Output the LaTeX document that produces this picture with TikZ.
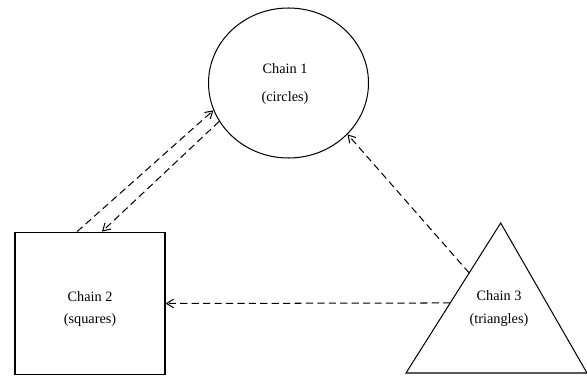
\documentclass[tikz,border=0pt]{standalone}
\usepackage{fontspec}
\setmainfont{Liberation Serif}
\usetikzlibrary{calc,arrows.meta,shapes.geometric}

\begin{document}
\begin{tikzpicture}[x=0.7pt, y=0.7pt,
		chainbox/.style={draw, line width=0.25mm, inner sep=0pt},
		chaintext/.style={align=center, inner sep=0pt, font=\fontsize{10pt}{12pt}\selectfont},
		flow/.style={line width=0.25mm, dash pattern=on 5pt off 3pt, -{Straight Barb[length=5pt, width=6pt]}}]
			%%%%% START %%%%%
			
			\useasboundingbox (0, 0) rectangle (587, -377);
			
			\node[chainbox, ellipse, minimum width=112pt, minimum height=105pt] (circ) at (288.5, -83) {};
			\node[chaintext] (circtext) at (285, -84) {Chain 1\\[7pt](circles)};
			
			\node[chainbox, rectangle, minimum width=105pt, minimum height=100pt] (sq) at (90, -303.5) {};
			\node[chaintext] (sqtext) at (90, -309) {Chain 2\\[4pt](squares)};
			
			\coordinate (tribl) at (406, -373);
			\coordinate (tribr) at (587, -373);
			\coordinate (tritop) at (500.7, -223);
			\draw[line width=0.25mm, line join=miter] (tribl) -- (tritop) -- (tribr) -- cycle;
			\node[chaintext] (tritext) at (499, -309) {Chain 3\\[4pt](triangles)};
			\coordinate (triup) at ($(tribl)!0.667!(tritop)$);
			\coordinate (trilf) at ($(tribl)!0.467!(tritop)$);
			
			\draw[flow] ([xshift=-9pt]sq.north) -- (circ.200);
			\draw[flow] (circ.209) -- ([xshift=8.4pt]sq.north);
			\draw[flow] (triup) -- (circ.319);
			\draw[flow] (trilf) -- (sq.east);
			
			%%%%% END %%%%%
\end{tikzpicture}
\end{document}
